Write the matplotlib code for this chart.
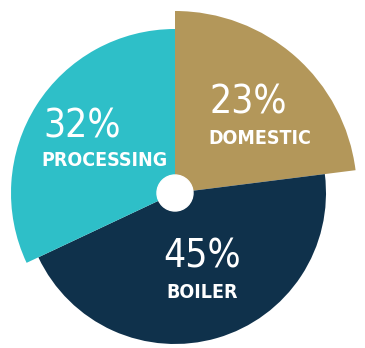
import matplotlib.pyplot as plt

# data
labels = ["DOMESTIC", "BOILER", "PROCESSING"]
shares = [23, 45, 32]
colors = ["#B3975A", "#0F314B", "#2EBFC8"]
radii = [182, 151, 164]  # each slice sticks out by a different amount

fig = plt.figure(figsize=(3.65, 3.48), dpi=100)
ax = fig.add_axes([0, 0, 1, 1])

# one pie per radius, only one slice visible in each
for i in range(len(shares)):
    cols = [c if j == i else "none" for j, c in enumerate(colors)]
    ax.pie(shares, radius=radii[i], colors=cols, startangle=90,
           counterclock=False, center=(0, 0), frame=True)

ax.add_patch(plt.Circle((0, 0), 18, color="white", zorder=5))

pct_pos = [(73, 91), (27, -64), (-93, 66)]
lab_pos = [(85, 55), (27, -100), (-71, 33)]
for lab, s, (px, py), (lx, ly) in zip(labels, shares, pct_pos, lab_pos):
    ax.text(px, py, f"{s}%", ha="center", va="center", color="white",
            fontsize=28, family="DejaVu Sans", fontstretch="condensed")
    ax.text(lx, ly, lab, ha="center", va="center", color="white",
            fontsize=14, fontweight="bold", family="DejaVu Sans",
            fontstretch="condensed")

ax.set_xlim(-175, 190)
ax.set_ylim(-155, 193)
ax.set_aspect("equal")
ax.axis("off")

fig.savefig("out.png", dpi=100)
